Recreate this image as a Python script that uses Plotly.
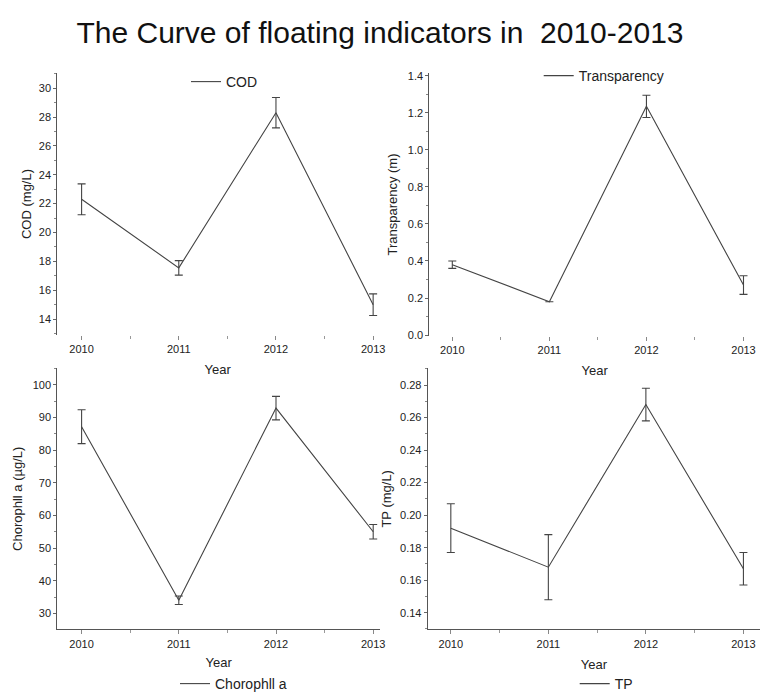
import plotly.graph_objects as go

# Annual means and standard deviations, 2010-2013
years = [2010, 2011, 2012, 2013]

cod = [22.3, 17.55, 28.3, 15.0]
cod_err = [1.07, 0.5, 1.05, 0.75]

transparency = [0.38, 0.18, 1.235, 0.27]
transparency_err = [0.02, None, 0.06, 0.05]

chlorophyll = [87.2, 34.0, 92.9, 55.0]
chlorophyll_err = [5.2, 1.3, 3.6, 2.2]

tp = [0.192, 0.168, 0.268, 0.167]
tp_err = [0.015, 0.02, 0.01, 0.01]

W, H = 760, 693
FONT = "Liberation Sans, Arial, sans-serif"
INK = "#444444"


def dom_x(a, b):
    return [a / W, b / W]


def dom_y(top, bottom):
    return [1 - bottom / H, 1 - top / H]


panels = [
    dict(name="COD", y=cod, e=cod_err, title="COD (mg/L)",
         xd=dom_x(57.3, 378), yd=dom_y(73, 335), xr=[2009.75, 2013.05], yr=[12.9, 31.05],
         dtick=2, minor=1, fmt="", xline=False, ystand=4, xstand=10, legend=(189, 82)),
    dict(name="Transparency", y=transparency, e=transparency_err, title="Transparency (m)",
         xd=dom_x(429.3, 760), yd=dom_y(73, 336), xr=[2009.763, 2013.17], yr=[-0.005, 1.415],
         dtick=0.2, minor=0.1, fmt=".1f", xline=False, ystand=7, xstand=10, legend=(541.7, 76)),
    dict(name="Chorophll a", y=chlorophyll, e=chlorophyll_err, title="Chorophll a (µg/L)",
         xd=dom_x(57.3, 380), yd=dom_y(368.3, 629.3), xr=[2009.75, 2013.07], yr=[25.1, 105.1],
         dtick=10, minor=5, fmt="", xline=True, ystand=7, xstand=9, legend=(178, 684)),
    dict(name="TP", y=tp, e=tp_err, title="TP (mg/L)",
         xd=dom_x(427.7, 760), yd=dom_y(368.3, 629.3), xr=[2009.763, 2013.17], yr=[0.1298, 0.2903],
         dtick=0.02, minor=0.01, fmt=".2f", xline=True, ystand=5, xstand=11, legend=(577.7, 684)),
]

fig = go.Figure()
layout = dict(
    width=W, height=H,
    margin=dict(l=0, r=0, t=0, b=0, autoexpand=False),
    paper_bgcolor="white", plot_bgcolor="white",
    font=dict(family=FONT, color="#222"),
    showlegend=True,
    title=dict(text="The Curve of floating indicators in  2010-2013",
               x=0.5, xanchor="center", y=1 - 32 / H, yanchor="middle",
               font=dict(size=30, color="#111", family=FONT)),
)

for i, p in enumerate(panels, start=1):
    sfx = "" if i == 1 else str(i)
    leg = "legend" if i == 1 else f"legend{i}"
    fig.add_trace(go.Scatter(
        x=years, y=p["y"], mode="lines", name=p["name"], showlegend=True,
        line=dict(color=INK, width=1.1),
        error_y=dict(type="data", array=p["e"], visible=True,
                     color=INK, thickness=1.1, width=4),
        xaxis=f"x{sfx}", yaxis=f"y{sfx}", legend=leg,
    ))
    layout[f"xaxis{sfx}"] = dict(
        domain=p["xd"], range=p["xr"], anchor=f"y{sfx}",
        tickvals=years, ticktext=[str(y) for y in years],
        ticks="outside", ticklen=4, tickcolor="#888", tickwidth=1,
        minor=dict(tickvals=[2010.5, 2011.5, 2012.5], ticks="outside", ticklen=3, tickcolor="#999"),
        showline=p["xline"], linecolor="#555", linewidth=1,
        showgrid=False, zeroline=False,
        tickfont=dict(size=11, color="#222"),
        title=dict(text="Year", font=dict(size=13, color="#222"), standoff=p["xstand"]),
    )
    layout[f"yaxis{sfx}"] = dict(
        domain=p["yd"], range=p["yr"], anchor=f"x{sfx}",
        dtick=p["dtick"], tick0=0, tickformat=p["fmt"],
        ticks="outside", ticklen=3, tickcolor="#666", tickwidth=1,
        minor=dict(dtick=p["minor"], ticks="outside", ticklen=2, tickcolor="#888"),
        showline=True, linecolor="#555", linewidth=1,
        showgrid=False, zeroline=False,
        tickfont=dict(size=11, color="#222"),
        title=dict(text=p["title"], font=dict(size=13, color="#222"), standoff=p["ystand"]),
    )
    lx, ly = p["legend"]
    layout[leg] = dict(
        visible=True,
        x=(lx - 3) / W, y=1 - ly / H, xanchor="left", yanchor="middle",
        bgcolor="rgba(0,0,0,0)", borderwidth=0,
        font=dict(size=14, color="#222"),
        itemwidth=30, tracegroupgap=0,
    )

fig.update_layout(**layout)
fig.write_html("out.html")
